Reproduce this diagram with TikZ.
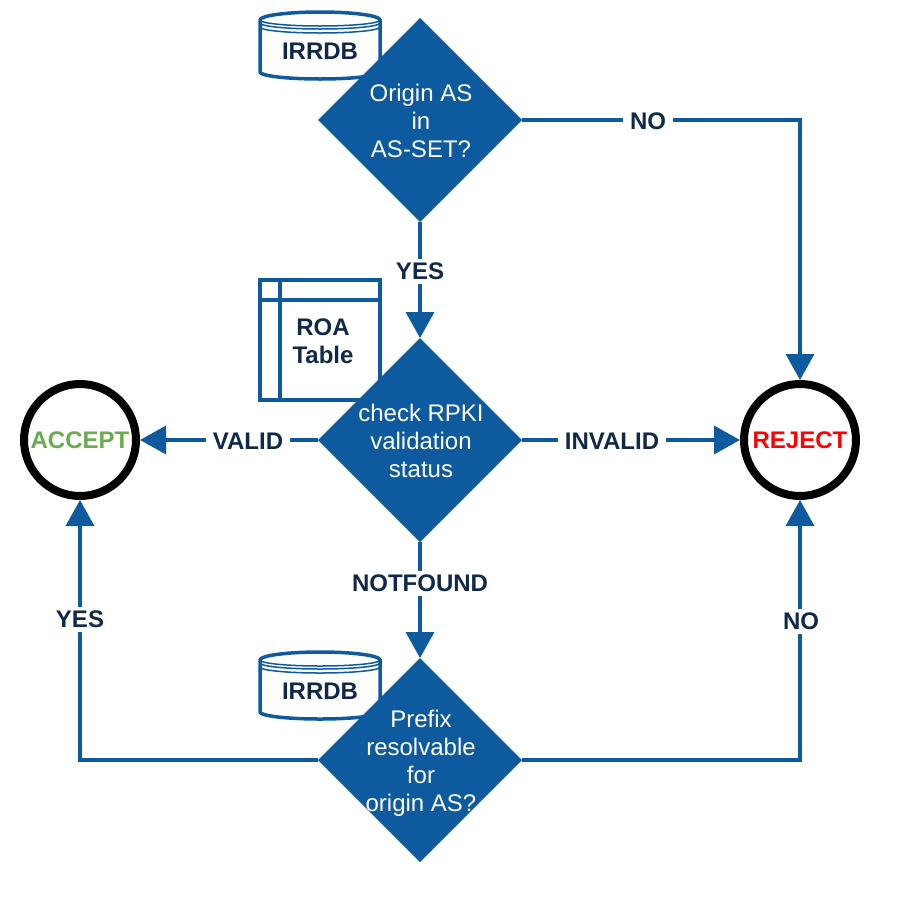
\documentclass[tikz,border=0pt]{standalone}
\usepackage{fontspec}
\setmainfont{Liberation Sans}
\usetikzlibrary{arrows.meta,shapes.geometric}
\definecolor{flowblue}{HTML}{0E5A9F}
\definecolor{labelnavy}{HTML}{10294B}
\definecolor{acceptgreen}{HTML}{6AAB50}
\tikzset{
  decision/.style={diamond,aspect=1,fill=flowblue,minimum size=204pt,inner sep=0pt,outer sep=0pt},
  decisiontext/.style={text=white,align=center,font=\fontsize{24}{28}\selectfont,inner sep=0pt},
  outcome/.style={circle,draw=black,line width=8pt,fill=white,minimum size=112pt,inner sep=0pt,font=\bfseries\fontsize{24}{28}\selectfont},
  sourcetext/.style={text=labelnavy,align=center,font=\bfseries\fontsize{24}{28}\selectfont,inner sep=0pt},
  edgelabel/.style={text=labelnavy,fill=white,font=\bfseries\fontsize{24}{28}\selectfont,inner xsep=7pt,inner ysep=4pt},
  flow/.style={draw=flowblue,line width=3.5pt,-{Triangle[length=26pt,width=28pt]}},
  store/.style={draw=flowblue,line width=3.5pt,fill=white},
}
\newcommand{\irrstore}[1]{
  \draw[store] (260,#1+8) arc[start angle=180,end angle=360,x radius=60,y radius=8]
    -- (380,#1+60) arc[start angle=0,end angle=180,x radius=60,y radius=7] -- cycle;
  \draw[flowblue,line width=1.5pt] (260,#1+8) arc[start angle=180,end angle=0,x radius=60,y radius=6];
  \draw[flowblue,line width=1.5pt] (260,#1+11) arc[start angle=180,end angle=0,x radius=60,y radius=6];
  \draw[flowblue,line width=1.5pt] (260,#1+15) arc[start angle=180,end angle=0,x radius=60,y radius=6];
}
\begin{document}
\begin{tikzpicture}[x=1pt,y=-1pt]
  \useasboundingbox (0,0) rectangle (900,900);

  %sources
  \irrstore{12}
  \irrstore{652}
  \node[sourcetext] (irrdbtop) at (320,51) {IRRDB};
  \node[sourcetext] (irrdbbottom) at (320,691) {IRRDB};

  \draw[store] (260,280) rectangle (380,400);
  \draw[store] (280,280) -- (280,400);
  \draw[store] (260,300) -- (380,300);
  \node[sourcetext] (roa) at (323,341) {ROA\\Table};

  %decisions
  \node[decision] (origin) at (420,120) {};
  \node[decisiontext] (origintext) at (421,121) {Origin AS\\in\\AS-SET?};
  \node[decision] (rpki) at (420,440) {};
  \node[decisiontext] (rpkitext) at (421,441) {check RPKI\\validation\\status};
  \node[decision] (prefix) at (420,760) {};
  \node[decisiontext] (prefixtext) at (421,763) {Prefix\\resolvable\\for\\origin AS?};

  %outcomes
  \node[outcome,text=acceptgreen] (accept) at (80,440) {ACCEPT};
  \node[outcome,text=red] (reject) at (800,440) {REJECT};

  %connectors
  \draw[flow] (origin.east) -| (reject.north);
  \draw[flow] (origin.south) -- (rpki.north);
  \draw[flow] (rpki.west) -- (accept.east);
  \draw[flow] (rpki.east) -- (reject.west);
  \draw[flow] (rpki.south) -- (prefix.north);
  \draw[flow] (prefix.west) -| (accept.south);
  \draw[flow] (prefix.east) -| (reject.south);

  %labels
  \node[edgelabel] (originno) at (648,121) {NO};
  \node[edgelabel] (originyes) at (420,271) {YES};
  \node[edgelabel] (rpkivalid) at (248,441) {VALID};
  \node[edgelabel] (rpkiinvalid) at (612,441) {INVALID};
  \node[edgelabel] (rpkinotfound) at (420,583) {NOTFOUND};
  \node[edgelabel] (prefixyes) at (80,619) {YES};
  \node[edgelabel] (prefixno) at (801,621) {NO};
\end{tikzpicture}
\end{document}
